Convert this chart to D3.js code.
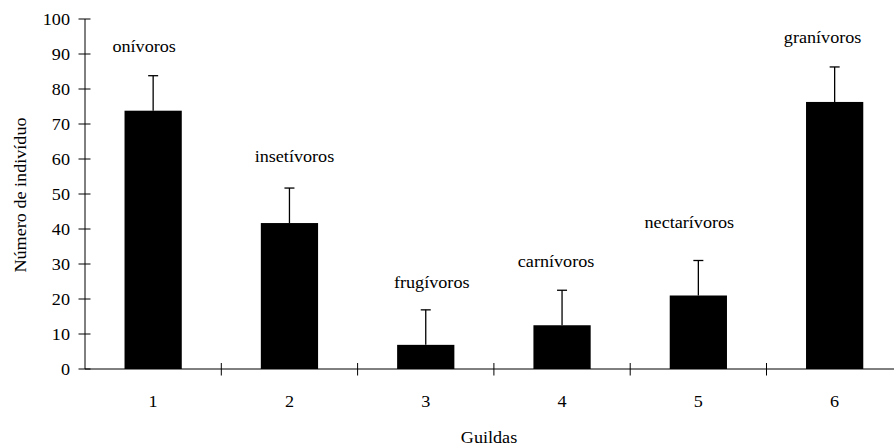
<!DOCTYPE html>
<html>
<head>
<meta charset="utf-8">
<script src="https://cdn.jsdelivr.net/npm/d3@7"></script>
<style>
  html, body { margin: 0; padding: 0; background: #fff; }
  svg { display: block; }
</style>
</head>
<body>
<div id="chart"></div>
<script>
// Número de indivíduos por guilda trófica (média + erro)
const categories = ["1", "2", "3", "4", "5", "6"];
const guildNames = ["onívoros", "insetívoros", "frugívoros", "carnívoros", "nectarívoros", "granívoros"];
const values = [73.8, 41.7, 6.9, 12.5, 21.0, 76.3];
const errors = [10, 10, 10, 10, 10, 10];
const yTicks = [0, 10, 20, 30, 40, 50, 60, 70, 80, 90, 100];

// small hand nudges for the guild labels (px right, value units up)
const labelNudge = [[-9, 6.7], [5, 7.4], [6, 6.2], [-6, 6.7], [-9, 9.3], [-12, 6.9]];

const W = 894, H = 446;
const x0 = 85, band = 136.3;
const FS = 16.5, STRETCH = 1.1;
const FONT = "'Liberation Serif', 'Times New Roman', Times, 'DejaVu Serif', serif";

const svg = d3.select("#chart").append("svg")
  .attr("width", W).attr("height", H);

const x = d3.scaleBand()
  .domain(categories)
  .range([x0, x0 + band * categories.length])
  .paddingInner(0).paddingOuter(0);

const y = d3.scaleLinear().domain([0, 100]).range([369, 19]);

const barW = band * 0.42;

// horizontally stretched serif text
function stretchedText(g, px, py, str, anchor, rot) {
  return g.append("text")
    .attr("transform", `translate(${px},${py})${rot ? " rotate(" + rot + ")" : ""} scale(${STRETCH},1)`)
    .attr("text-anchor", anchor)
    .attr("font-family", FONT)
    .attr("font-size", FS)
    .attr("fill", "#000")
    .text(str);
}

// bars
svg.append("g").selectAll("rect")
  .data(values)
  .join("rect")
  .attr("x", (d, i) => x(categories[i]) + (band - barW) / 2)
  .attr("y", d => y(d))
  .attr("width", barW)
  .attr("height", d => y(0) - y(d))
  .attr("fill", "#000");

// error bars (upper side only)
const eb = svg.append("g").attr("stroke", "#000").attr("stroke-width", 1.3);
values.forEach((v, i) => {
  const cx = x(categories[i]) + band / 2;
  eb.append("line").attr("x1", cx).attr("x2", cx)
    .attr("y1", y(v)).attr("y2", y(v + errors[i]));
  eb.append("line").attr("x1", cx - 5).attr("x2", cx + 5)
    .attr("y1", y(v + errors[i])).attr("y2", y(v + errors[i]));
});

// y axis
const ya = svg.append("g").attr("stroke", "#000").attr("stroke-width", 1);
ya.append("line").attr("x1", x0).attr("x2", x0).attr("y1", y(0)).attr("y2", y(100));
yTicks.forEach(t => {
  ya.append("line").attr("x1", x0 - 6.5).attr("x2", x0 + 5.5)
    .attr("y1", y(t)).attr("y2", y(t));
  stretchedText(svg, 70, y(t) + 5.5, String(t), "end");
});

// x axis
const xa = svg.append("g").attr("stroke", "#000").attr("stroke-width", 1);
xa.append("line").attr("x1", x0).attr("x2", x.range()[1]).attr("y1", y(0)).attr("y2", y(0));
categories.forEach((c, i) => {
  const tx = x(c) + band;
  xa.append("line").attr("x1", tx).attr("x2", tx).attr("y1", y(0) - 6).attr("y2", y(0) + 6.5);
  stretchedText(svg, x(c) + band / 2, 407, c, "middle");
});

// guild labels
guildNames.forEach((n, i) => {
  const cx = x(categories[i]) + band / 2 + labelNudge[i][0];
  const ty = y(values[i] + errors[i] + labelNudge[i][1]);
  stretchedText(svg, cx, ty, n, "middle");
});

// axis titles
stretchedText(svg, 489, 443, "Guildas", "middle");
stretchedText(svg, 26, 195, "Número de indivíduo", "middle", -90);
</script>
</body>
</html>
